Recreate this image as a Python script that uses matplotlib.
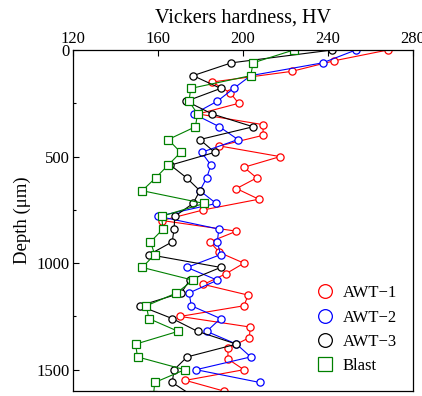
import matplotlib
matplotlib.use("Agg")
import matplotlib.pyplot as plt
from matplotlib.ticker import MultipleLocator

plt.rcParams['font.family'] = ['Liberation Serif', 'DejaVu Serif']

# depth grids (um)
depth_awt1 = [0, 50, 100, 150, 200, 250, 300, 350, 400, 450, 500, 550, 600, 650,
              700, 750, 800, 850, 900, 950, 1000, 1050, 1100, 1150, 1200, 1250,
              1300, 1350, 1400, 1450, 1500, 1550, 1600]
depth_awt2 = [0, 60, 120, 180, 240, 300, 360, 420, 480, 540, 600, 660, 720, 780,
              840, 900, 960, 1020, 1080, 1140, 1200, 1260, 1320, 1380, 1440, 1500, 1560]
depth_awt3 = depth_awt2 + [1620]
depth_blast = depth_awt2 + [1620]

hv_awt1 = [268, 243, 223, 185.5, 194, 198, 179, 209.5, 209.5, 189, 217.5, 200.5,
           206.5, 197, 207.5, 181.5, 162, 197, 184.5, 189, 200.5, 192, 181.5, 202.5,
           200.5, 170.5, 203.5, 203, 193, 193, 200.5, 173, 191]
hv_awt2 = [253, 237.5, 203.7, 195.7, 188, 177, 189, 197.7, 180.6, 185, 183, 179.8,
           187.5, 160.2, 188.7, 188, 189.5, 173.8, 188, 174.7, 175.8, 189.5, 183,
           197, 203.7, 178, 208]
hv_awt3 = [241.8, 194.6, 176.6, 189.6, 173.5, 185.6, 204.8, 179.8, 186.8, 166,
           173.6, 179.8, 176.6, 168, 167.7, 166.8, 156, 189.6, 175, 171, 151.6,
           166.8, 178.7, 197, 173.8, 167.7, 166.8, 176]
hv_blast = [223.8, 204.8, 203.7, 175.5, 174.7, 178.7, 177.7, 164.9, 170.8, 164.9,
            159, 152.7, 181.8, 161.8, 162.5, 156.6, 158.6, 152.7, 176.6, 168.8,
            154.7, 155.8, 169.6, 149.6, 150.5, 172.7, 158.6, 158]

series = [
    (hv_awt1, depth_awt1, 'red', 'o', 'AWT\u22121'),
    (hv_awt2, depth_awt2, 'blue', 'o', 'AWT\u22122'),
    (hv_awt3, depth_awt3, 'black', 'o', 'AWT\u22123'),
    (hv_blast, depth_blast, 'green', 's', 'Blast'),
]

fig = plt.figure(figsize=(4.22, 3.96), dpi=100)
ax = fig.add_axes([0.172, 0.0126, 0.807, 0.861])

for hv, d, col, mk, lab in series:
    ax.plot(hv, d, color=col, lw=0.8, marker=mk, ms=5.2, mfc='white',
            mec=col, mew=0.9, label=lab)

ax.set_xlim(120, 280)
ax.set_ylim(1600, 0)
ax.xaxis.set_major_locator(MultipleLocator(40))
ax.yaxis.set_major_locator(MultipleLocator(500))
ax.yaxis.set_minor_locator(MultipleLocator(250))
ax.xaxis.tick_top()
ax.xaxis.set_label_position('top')
ax.tick_params(axis='both', which='major', direction='in', length=4.5,
               width=0.8, labelsize=12, pad=2)
ax.tick_params(axis='y', which='minor', direction='in', length=2.5, width=0.8)
ax.set_xlabel('Vickers hardness, HV', fontsize=14.5, labelpad=6)
ax.set_ylabel('Depth (\u03bcm)', fontsize=13.5, labelpad=4)
for s in ax.spines.values():
    s.set_linewidth(0.9)

leg = ax.legend(loc='lower right', bbox_to_anchor=(0.997, 0.005), frameon=False,
                fontsize=12, handlelength=0, handletextpad=1.1,
                labelspacing=0.5, markerscale=1.9)
for h in leg.legend_handles:
    h.set_linestyle('none')

fig.savefig('out.png', dpi=100)
